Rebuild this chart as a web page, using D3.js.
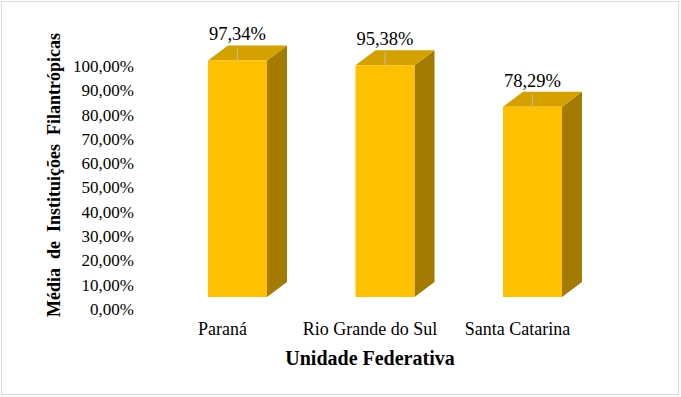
<!DOCTYPE html>
<html>
<head>
<meta charset="utf-8">
<script src="https://cdn.jsdelivr.net/npm/d3@7"></script>
<style>
  html, body { margin: 0; padding: 0; background: #fff; }
  svg { display: block; }
  text { font-family: "Liberation Serif", "Tinos", "Times New Roman", Times, "DejaVu Serif", serif; fill: #000; }
</style>
</head>
<body>
<svg id="chart" width="681" height="397"></svg>
<script>
const categories = ["Paraná", "Rio Grande do Sul", "Santa Catarina"];
const values = [97.34, 95.38, 78.29];
const valueLabels = ["97,34%", "95,38%", "78,29%"];
const tickValues = [0, 10, 20, 30, 40, 50, 60, 70, 80, 90, 100];
const tickLabels = ["0,00%", "10,00%", "20,00%", "30,00%", "40,00%", "50,00%", "60,00%", "70,00%", "80,00%", "90,00%", "100,00%"];
const xTitle = "Unidade Federativa";
const yTitle = "Média  de  Instituições  Filantrópicas";

const FONT = "'Liberation Serif', Tinos, 'Times New Roman', Times, 'DejaVu Serif', serif";
const W = 681, H = 397;
const depthX = 20, depthY = -15;
const colFront = "#FFC000", colTop = "#D4A100", colSide = "#A37B00";

const svg = d3.select("#chart");

svg.append("rect")
  .attr("x", 1.5).attr("y", 1.5).attr("width", 677).attr("height", 393)
  .attr("fill", "#fff").attr("stroke", "#d9d9d9").attr("stroke-width", 1);

const x = d3.scaleBand().domain(categories).range([163.75, 606.25])
  .paddingInner(0.6).paddingOuter(0.3);
const y = d3.scaleLinear().domain([0, 100]).range([297, 54]);

const yAxis = d3.axisLeft(y).tickValues(tickValues).tickSize(0).tickPadding(0)
  .tickFormat((d, i) => tickLabels[i]);
const gy = svg.append("g").attr("transform", "translate(134,12)").call(yAxis);
gy.attr("font-family", FONT);
gy.select(".domain").remove();
gy.selectAll("text").attr("font-family", FONT).attr("font-size", "17px").attr("fill", "#000");

const data = categories.map((c, i) => ({ c, v: values[i], lab: valueLabels[i] }));
const bars = svg.append("g").selectAll("g").data(data).join("g");

bars.append("path")
  .attr("fill", colSide)
  .attr("d", d => {
    const x1 = x(d.c) + x.bandwidth(), y0 = y(0), yt = y(d.v);
    return `M${x1},${y0}L${x1},${yt}L${x1 + depthX},${yt + depthY}L${x1 + depthX},${y0 + depthY}Z`;
  });
bars.append("path")
  .attr("fill", colTop)
  .attr("d", d => {
    const x0 = x(d.c), x1 = x0 + x.bandwidth(), yt = y(d.v);
    return `M${x0},${yt}L${x1},${yt}L${x1 + depthX},${yt + depthY}L${x0 + depthX},${yt + depthY}Z`;
  });
bars.append("rect")
  .attr("fill", colFront)
  .attr("x", d => x(d.c))
  .attr("y", d => y(d.v))
  .attr("width", x.bandwidth())
  .attr("height", d => y(0) - y(d.v));

bars.append("line")
  .attr("x1", d => x(d.c) + x.bandwidth() / 2)
  .attr("x2", d => x(d.c) + x.bandwidth() / 2)
  .attr("y1", d => y(d.v) + depthY + 2)
  .attr("y2", d => y(d.v))
  .attr("stroke", "#c4b89a").attr("stroke-width", 1.2);

bars.append("text")
  .attr("x", d => x(d.c) + x.bandwidth() / 2)
  .attr("y", d => y(d.v) + depthY - 5)
  .attr("text-anchor", "middle")
  .attr("font-family", FONT)
  .attr("font-size", "18.5px")
  .text(d => d.lab);

svg.append("g").selectAll("text").data(categories).join("text")
  .attr("x", d => x(d) + x.bandwidth() / 2 - 15)
  .attr("y", 335)
  .attr("text-anchor", "middle")
  .attr("font-family", FONT)
  .attr("font-size", "18px")
  .text(d => d);

svg.append("text")
  .attr("x", 370).attr("y", 365)
  .attr("text-anchor", "middle")
  .attr("font-family", FONT)
  .attr("font-size", "20px").attr("font-weight", "bold")
  .text(xTitle);

svg.append("text")
  .attr("transform", "translate(60,175) rotate(-90)")
  .attr("text-anchor", "middle")
  .attr("font-family", FONT)
  .attr("font-size", "18px").attr("font-weight", "bold")
  .style("white-space", "pre")
  .text(yTitle);
</script>
</body>
</html>
